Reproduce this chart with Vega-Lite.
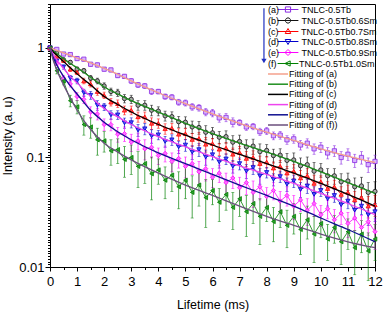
{
"$schema":"https://vega.github.io/schema/vega-lite/v6.json",
"width":325,"height":263,
"autosize":"none",
"padding":{"left":50,"top":4,"right":12,"bottom":47},
"config":{"font":"Liberation Sans","view":{"stroke":"black","strokeWidth":1},
 "axis":{"grid":false,"domainColor":"black","tickColor":"black","labelColor":"black","titleColor":"black","labelFont":"Liberation Sans","titleFont":"Liberation Sans","labelFontSize":13,"titleFontSize":12.5,"titleFontWeight":"normal"},
 "legend":{"labelFont":"Liberation Sans","labelColor":"black","labelFontSize":9,"padding":0}},
"datasets":{
"pts":[
{"s":"a","t":0,"v":1,"e":0.03},{"s":"a","t":0.25,"v":0.97,"e":0.03},{"s":"a","t":0.5,"v":0.88,"e":0.03},{"s":"a","t":0.75,"v":0.87,"e":0.03},{"s":"a","t":1,"v":0.8,"e":0.03},{"s":"a","t":1.25,"v":0.79,"e":0.03},{"s":"a","t":1.5,"v":0.71,"e":0.03},{"s":"a","t":1.75,"v":0.7,"e":0.03},{"s":"a","t":2,"v":0.64,"e":0.025},{"s":"a","t":2.25,"v":0.63,"e":0.025},{"s":"a","t":2.5,"v":0.56,"e":0.025},{"s":"a","t":2.75,"v":0.55,"e":0.025},{"s":"a","t":3,"v":0.5,"e":0.025},{"s":"a","t":3.25,"v":0.46,"e":0.025},{"s":"a","t":3.5,"v":0.45,"e":0.025},{"s":"a","t":3.75,"v":0.4,"e":0.025},{"s":"a","t":4,"v":0.4,"e":0.02},{"s":"a","t":4.25,"v":0.36,"e":0.02},{"s":"a","t":4.5,"v":0.355,"e":0.02},{"s":"a","t":4.75,"v":0.32,"e":0.02},{"s":"a","t":5,"v":0.315,"e":0.02},{"s":"a","t":5.25,"v":0.29,"e":0.02},{"s":"a","t":5.5,"v":0.285,"e":0.02},{"s":"a","t":5.75,"v":0.26,"e":0.02},{"s":"a","t":6,"v":0.255,"e":0.02},{"s":"a","t":6.25,"v":0.23,"e":0.02},{"s":"a","t":6.5,"v":0.232,"e":0.02},{"s":"a","t":6.75,"v":0.21,"e":0.02},{"s":"a","t":7,"v":0.208,"e":0.013},{"s":"a","t":7.25,"v":0.19,"e":0.013},{"s":"a","t":7.5,"v":0.192,"e":0.013},{"s":"a","t":7.75,"v":0.172,"e":0.013},{"s":"a","t":8,"v":0.175,"e":0.013},{"s":"a","t":8.25,"v":0.158,"e":0.013},{"s":"a","t":8.5,"v":0.16,"e":0.013},{"s":"a","t":8.75,"v":0.145,"e":0.013},{"s":"a","t":9,"v":0.148,"e":0.013},{"s":"a","t":9.25,"v":0.13,"e":0.013},{"s":"a","t":9.5,"v":0.135,"e":0.013},{"s":"a","t":9.75,"v":0.12,"e":0.013},{"s":"a","t":10,"v":0.124,"e":0.013},{"s":"a","t":10.25,"v":0.11,"e":0.013},{"s":"a","t":10.5,"v":0.115,"e":0.013},{"s":"a","t":10.75,"v":0.1,"e":0.013},{"s":"a","t":11,"v":0.107,"e":0.013},{"s":"a","t":11.25,"v":0.094,"e":0.013},{"s":"a","t":11.5,"v":0.1,"e":0.013},{"s":"a","t":11.75,"v":0.086,"e":0.013},{"s":"a","t":12,"v":0.092,"e":0.013},
{"s":"b","t":0,"v":1,"e":0.03},{"s":"b","t":0.25,"v":0.9,"e":0.03},{"s":"b","t":0.5,"v":0.78,"e":0.03},{"s":"b","t":0.75,"v":0.74,"e":0.03},{"s":"b","t":1,"v":0.64,"e":0.03},{"s":"b","t":1.25,"v":0.62,"e":0.03},{"s":"b","t":1.5,"v":0.53,"e":0.03},{"s":"b","t":1.75,"v":0.5,"e":0.03},{"s":"b","t":2,"v":0.45,"e":0.03},{"s":"b","t":2.25,"v":0.4,"e":0.03},{"s":"b","t":2.5,"v":0.39,"e":0.03},{"s":"b","t":2.75,"v":0.345,"e":0.03},{"s":"b","t":3,"v":0.34,"e":0.03},{"s":"b","t":3.25,"v":0.3,"e":0.03},{"s":"b","t":3.5,"v":0.3,"e":0.03},{"s":"b","t":3.75,"v":0.27,"e":0.03},{"s":"b","t":4,"v":0.265,"e":0.025},{"s":"b","t":4.25,"v":0.24,"e":0.025},{"s":"b","t":4.5,"v":0.236,"e":0.025},{"s":"b","t":4.75,"v":0.212,"e":0.025},{"s":"b","t":5,"v":0.21,"e":0.025},{"s":"b","t":5.25,"v":0.19,"e":0.025},{"s":"b","t":5.5,"v":0.188,"e":0.025},{"s":"b","t":5.75,"v":0.17,"e":0.025},{"s":"b","t":6,"v":0.168,"e":0.02},{"s":"b","t":6.25,"v":0.153,"e":0.02},{"s":"b","t":6.5,"v":0.155,"e":0.02},{"s":"b","t":6.75,"v":0.138,"e":0.02},{"s":"b","t":7,"v":0.14,"e":0.02},{"s":"b","t":7.25,"v":0.125,"e":0.02},{"s":"b","t":7.5,"v":0.127,"e":0.02},{"s":"b","t":7.75,"v":0.113,"e":0.02},{"s":"b","t":8,"v":0.116,"e":0.015},{"s":"b","t":8.25,"v":0.104,"e":0.015},{"s":"b","t":8.5,"v":0.105,"e":0.015},{"s":"b","t":8.75,"v":0.094,"e":0.015},{"s":"b","t":9,"v":0.095,"e":0.015},{"s":"b","t":9.25,"v":0.084,"e":0.015},{"s":"b","t":9.5,"v":0.086,"e":0.015},{"s":"b","t":9.75,"v":0.075,"e":0.015},{"s":"b","t":10,"v":0.077,"e":0.011},{"s":"b","t":10.25,"v":0.068,"e":0.011},{"s":"b","t":10.5,"v":0.068,"e":0.011},{"s":"b","t":10.75,"v":0.06,"e":0.011},{"s":"b","t":11,"v":0.061,"e":0.011},{"s":"b","t":11.25,"v":0.054,"e":0.011},{"s":"b","t":11.5,"v":0.055,"e":0.011},{"s":"b","t":11.75,"v":0.048,"e":0.011},{"s":"b","t":12,"v":0.049,"e":0.011},
{"s":"c","t":0,"v":1,"e":0.03},{"s":"c","t":0.25,"v":0.84,"e":0.03},{"s":"c","t":0.5,"v":0.77,"e":0.03},{"s":"c","t":0.75,"v":0.64,"e":0.03},{"s":"c","t":1,"v":0.6,"e":0.03},{"s":"c","t":1.25,"v":0.5,"e":0.03},{"s":"c","t":1.5,"v":0.47,"e":0.03},{"s":"c","t":1.75,"v":0.4,"e":0.03},{"s":"c","t":2,"v":0.37,"e":0.025},{"s":"c","t":2.25,"v":0.32,"e":0.025},{"s":"c","t":2.5,"v":0.31,"e":0.025},{"s":"c","t":2.75,"v":0.27,"e":0.025},{"s":"c","t":3,"v":0.27,"e":0.025},{"s":"c","t":3.25,"v":0.235,"e":0.025},{"s":"c","t":3.5,"v":0.235,"e":0.025},{"s":"c","t":3.75,"v":0.205,"e":0.025},{"s":"c","t":4,"v":0.205,"e":0.02},{"s":"c","t":4.25,"v":0.183,"e":0.02},{"s":"c","t":4.5,"v":0.185,"e":0.02},{"s":"c","t":4.75,"v":0.163,"e":0.02},{"s":"c","t":5,"v":0.165,"e":0.02},{"s":"c","t":5.25,"v":0.146,"e":0.02},{"s":"c","t":5.5,"v":0.149,"e":0.02},{"s":"c","t":5.75,"v":0.132,"e":0.02},{"s":"c","t":6,"v":0.134,"e":0.015},{"s":"c","t":6.25,"v":0.119,"e":0.015},{"s":"c","t":6.5,"v":0.122,"e":0.015},{"s":"c","t":6.75,"v":0.107,"e":0.015},{"s":"c","t":7,"v":0.111,"e":0.015},{"s":"c","t":7.25,"v":0.098,"e":0.015},{"s":"c","t":7.5,"v":0.1,"e":0.015},{"s":"c","t":7.75,"v":0.088,"e":0.015},{"s":"c","t":8,"v":0.091,"e":0.011},{"s":"c","t":8.25,"v":0.08,"e":0.011},{"s":"c","t":8.5,"v":0.083,"e":0.011},{"s":"c","t":8.75,"v":0.072,"e":0.011},{"s":"c","t":9,"v":0.075,"e":0.011},{"s":"c","t":9.25,"v":0.065,"e":0.011},{"s":"c","t":9.5,"v":0.068,"e":0.011},{"s":"c","t":9.75,"v":0.058,"e":0.011},{"s":"c","t":10,"v":0.06,"e":0.008},{"s":"c","t":10.25,"v":0.052,"e":0.008},{"s":"c","t":10.5,"v":0.054,"e":0.008},{"s":"c","t":10.75,"v":0.046,"e":0.008},{"s":"c","t":11,"v":0.048,"e":0.008},{"s":"c","t":11.25,"v":0.041,"e":0.008},{"s":"c","t":11.5,"v":0.043,"e":0.008},{"s":"c","t":11.75,"v":0.036,"e":0.008},{"s":"c","t":12,"v":0.037,"e":0.008},
{"s":"d","t":0,"v":1,"e":0.03},{"s":"d","t":0.25,"v":0.76,"e":0.03},{"s":"d","t":0.5,"v":0.67,"e":0.03},{"s":"d","t":0.75,"v":0.53,"e":0.03},{"s":"d","t":1,"v":0.5,"e":0.03},{"s":"d","t":1.25,"v":0.39,"e":0.03},{"s":"d","t":1.5,"v":0.37,"e":0.03},{"s":"d","t":1.75,"v":0.3,"e":0.03},{"s":"d","t":2,"v":0.29,"e":0.022},{"s":"d","t":2.25,"v":0.245,"e":0.022},{"s":"d","t":2.5,"v":0.245,"e":0.022},{"s":"d","t":2.75,"v":0.207,"e":0.022},{"s":"d","t":3,"v":0.208,"e":0.022},{"s":"d","t":3.25,"v":0.178,"e":0.022},{"s":"d","t":3.5,"v":0.183,"e":0.022},{"s":"d","t":3.75,"v":0.157,"e":0.022},{"s":"d","t":4,"v":0.161,"e":0.016},{"s":"d","t":4.25,"v":0.14,"e":0.016},{"s":"d","t":4.5,"v":0.145,"e":0.016},{"s":"d","t":4.75,"v":0.125,"e":0.016},{"s":"d","t":5,"v":0.13,"e":0.016},{"s":"d","t":5.25,"v":0.112,"e":0.016},{"s":"d","t":5.5,"v":0.118,"e":0.016},{"s":"d","t":5.75,"v":0.101,"e":0.016},{"s":"d","t":6,"v":0.106,"e":0.011},{"s":"d","t":6.25,"v":0.091,"e":0.011},{"s":"d","t":6.5,"v":0.097,"e":0.011},{"s":"d","t":6.75,"v":0.083,"e":0.011},{"s":"d","t":7,"v":0.088,"e":0.011},{"s":"d","t":7.25,"v":0.075,"e":0.011},{"s":"d","t":7.5,"v":0.081,"e":0.011},{"s":"d","t":7.75,"v":0.068,"e":0.011},{"s":"d","t":8,"v":0.073,"e":0.008},{"s":"d","t":8.25,"v":0.063,"e":0.008},{"s":"d","t":8.5,"v":0.067,"e":0.008},{"s":"d","t":8.75,"v":0.057,"e":0.008},{"s":"d","t":9,"v":0.061,"e":0.008},{"s":"d","t":9.25,"v":0.051,"e":0.008},{"s":"d","t":9.5,"v":0.055,"e":0.008},{"s":"d","t":9.75,"v":0.046,"e":0.008},{"s":"d","t":10,"v":0.05,"e":0.006},{"s":"d","t":10.25,"v":0.042,"e":0.006},{"s":"d","t":10.5,"v":0.045,"e":0.006},{"s":"d","t":10.75,"v":0.037,"e":0.006},{"s":"d","t":11,"v":0.04,"e":0.006},{"s":"d","t":11.25,"v":0.033,"e":0.006},{"s":"d","t":11.5,"v":0.036,"e":0.006},{"s":"d","t":11.75,"v":0.03,"e":0.006},{"s":"d","t":12,"v":0.032,"e":0.006},
{"s":"e","t":0,"v":1,"e":0.03},{"s":"e","t":0.25,"v":0.72,"e":0.03},{"s":"e","t":0.5,"v":0.53,"e":0.03},{"s":"e","t":0.75,"v":0.47,"e":0.03},{"s":"e","t":1,"v":0.36,"e":0.03},{"s":"e","t":1.25,"v":0.34,"e":0.03},{"s":"e","t":1.5,"v":0.26,"e":0.03},{"s":"e","t":1.75,"v":0.25,"e":0.03},{"s":"e","t":2,"v":0.2,"e":0.025},{"s":"e","t":2.25,"v":0.2,"e":0.025},{"s":"e","t":2.5,"v":0.163,"e":0.025},{"s":"e","t":2.75,"v":0.165,"e":0.025},{"s":"e","t":3,"v":0.138,"e":0.025},{"s":"e","t":3.25,"v":0.142,"e":0.025},{"s":"e","t":3.5,"v":0.12,"e":0.025},{"s":"e","t":3.75,"v":0.124,"e":0.025},{"s":"e","t":4,"v":0.104,"e":0.018},{"s":"e","t":4.25,"v":0.109,"e":0.018},{"s":"e","t":4.5,"v":0.092,"e":0.018},{"s":"e","t":4.75,"v":0.098,"e":0.018},{"s":"e","t":5,"v":0.083,"e":0.018},{"s":"e","t":5.25,"v":0.088,"e":0.018},{"s":"e","t":5.5,"v":0.074,"e":0.018},{"s":"e","t":5.75,"v":0.079,"e":0.018},{"s":"e","t":6,"v":0.066,"e":0.013},{"s":"e","t":6.25,"v":0.072,"e":0.013},{"s":"e","t":6.5,"v":0.059,"e":0.013},{"s":"e","t":6.75,"v":0.065,"e":0.013},{"s":"e","t":7,"v":0.053,"e":0.013},{"s":"e","t":7.25,"v":0.059,"e":0.013},{"s":"e","t":7.5,"v":0.048,"e":0.013},{"s":"e","t":7.75,"v":0.054,"e":0.013},{"s":"e","t":8,"v":0.044,"e":0.009},{"s":"e","t":8.25,"v":0.05,"e":0.009},{"s":"e","t":8.5,"v":0.04,"e":0.009},{"s":"e","t":8.75,"v":0.045,"e":0.009},{"s":"e","t":9,"v":0.036,"e":0.009},{"s":"e","t":9.25,"v":0.041,"e":0.009},{"s":"e","t":9.5,"v":0.033,"e":0.009},{"s":"e","t":9.75,"v":0.038,"e":0.009},{"s":"e","t":10,"v":0.03,"e":0.0065},{"s":"e","t":10.25,"v":0.034,"e":0.0065},{"s":"e","t":10.5,"v":0.027,"e":0.0065},{"s":"e","t":10.75,"v":0.031,"e":0.0065},{"s":"e","t":11,"v":0.025,"e":0.0065},{"s":"e","t":11.25,"v":0.028,"e":0.0065},{"s":"e","t":11.5,"v":0.023,"e":0.0065},{"s":"e","t":11.75,"v":0.026,"e":0.0065},{"s":"e","t":12,"v":0.021,"e":0.0065},
{"s":"f","t":0,"v":1,"e":0.04},{"s":"f","t":0.25,"v":0.62,"e":0.04},{"s":"f","t":0.5,"v":0.5,"e":0.04},{"s":"f","t":0.75,"v":0.33,"e":0.04},{"s":"f","t":1,"v":0.29,"e":0.04},{"s":"f","t":1.25,"v":0.2,"e":0.04},{"s":"f","t":1.5,"v":0.19,"e":0.04},{"s":"f","t":1.75,"v":0.145,"e":0.04},{"s":"f","t":2,"v":0.142,"e":0.03},{"s":"f","t":2.25,"v":0.115,"e":0.03},{"s":"f","t":2.5,"v":0.118,"e":0.03},{"s":"f","t":2.75,"v":0.096,"e":0.03},{"s":"f","t":3,"v":0.1,"e":0.03},{"s":"f","t":3.25,"v":0.083,"e":0.03},{"s":"f","t":3.5,"v":0.088,"e":0.03},{"s":"f","t":3.75,"v":0.071,"e":0.03},{"s":"f","t":4,"v":0.077,"e":0.02},{"s":"f","t":4.25,"v":0.062,"e":0.02},{"s":"f","t":4.5,"v":0.069,"e":0.02},{"s":"f","t":4.75,"v":0.054,"e":0.02},{"s":"f","t":5,"v":0.062,"e":0.02},{"s":"f","t":5.25,"v":0.048,"e":0.02},{"s":"f","t":5.5,"v":0.056,"e":0.02},{"s":"f","t":5.75,"v":0.043,"e":0.02},{"s":"f","t":6,"v":0.05,"e":0.013},{"s":"f","t":6.25,"v":0.039,"e":0.013},{"s":"f","t":6.5,"v":0.046,"e":0.013},{"s":"f","t":6.75,"v":0.035,"e":0.013},{"s":"f","t":7,"v":0.042,"e":0.013},{"s":"f","t":7.25,"v":0.032,"e":0.013},{"s":"f","t":7.5,"v":0.038,"e":0.013},{"s":"f","t":7.75,"v":0.029,"e":0.013},{"s":"f","t":8,"v":0.035,"e":0.009},{"s":"f","t":8.25,"v":0.026,"e":0.009},{"s":"f","t":8.5,"v":0.032,"e":0.009},{"s":"f","t":8.75,"v":0.024,"e":0.009},{"s":"f","t":9,"v":0.029,"e":0.009},{"s":"f","t":9.25,"v":0.022,"e":0.009},{"s":"f","t":9.5,"v":0.027,"e":0.009},{"s":"f","t":9.75,"v":0.02,"e":0.009},{"s":"f","t":10,"v":0.025,"e":0.0065},{"s":"f","t":10.25,"v":0.018,"e":0.0065},{"s":"f","t":10.5,"v":0.023,"e":0.0065},{"s":"f","t":10.75,"v":0.017,"e":0.0065},{"s":"f","t":11,"v":0.021,"e":0.0065},{"s":"f","t":11.25,"v":0.015,"e":0.0065},{"s":"f","t":11.5,"v":0.02,"e":0.0065},{"s":"f","t":11.75,"v":0.014,"e":0.0065},{"s":"f","t":12,"v":0.018,"e":0.0065}
],
"fit":[
{"s":"a","t":0,"v":1},{"s":"a","t":0.1,"v":0.98},{"s":"a","t":0.25,"v":0.95},{"s":"a","t":0.5,"v":0.9},{"s":"a","t":0.75,"v":0.855},{"s":"a","t":1,"v":0.81},{"s":"a","t":1.5,"v":0.73},{"s":"a","t":2,"v":0.65},{"s":"a","t":2.5,"v":0.575},{"s":"a","t":3,"v":0.5},{"s":"a","t":4,"v":0.39},{"s":"a","t":5,"v":0.31},{"s":"a","t":6,"v":0.25},{"s":"a","t":7,"v":0.205},{"s":"a","t":8,"v":0.17},{"s":"a","t":9,"v":0.143},{"s":"a","t":10,"v":0.12},{"s":"a","t":11,"v":0.103},{"s":"a","t":12,"v":0.09},
{"s":"b","t":0,"v":1},{"s":"b","t":0.1,"v":0.95},{"s":"b","t":0.25,"v":0.89},{"s":"b","t":0.5,"v":0.8},{"s":"b","t":0.75,"v":0.72},{"s":"b","t":1,"v":0.66},{"s":"b","t":1.5,"v":0.54},{"s":"b","t":2,"v":0.44},{"s":"b","t":2.5,"v":0.38},{"s":"b","t":3,"v":0.33},{"s":"b","t":4,"v":0.26},{"s":"b","t":5,"v":0.205},{"s":"b","t":6,"v":0.165},{"s":"b","t":7,"v":0.135},{"s":"b","t":8,"v":0.112},{"s":"b","t":9,"v":0.092},{"s":"b","t":10,"v":0.074},{"s":"b","t":11,"v":0.059},{"s":"b","t":12,"v":0.047},
{"s":"c","t":0,"v":1},{"s":"c","t":0.1,"v":0.93},{"s":"c","t":0.25,"v":0.86},{"s":"c","t":0.5,"v":0.75},{"s":"c","t":0.75,"v":0.66},{"s":"c","t":1,"v":0.58},{"s":"c","t":1.5,"v":0.46},{"s":"c","t":2,"v":0.36},{"s":"c","t":2.5,"v":0.305},{"s":"c","t":3,"v":0.26},{"s":"c","t":4,"v":0.2},{"s":"c","t":5,"v":0.16},{"s":"c","t":6,"v":0.13},{"s":"c","t":7,"v":0.107},{"s":"c","t":8,"v":0.088},{"s":"c","t":9,"v":0.072},{"s":"c","t":10,"v":0.058},{"s":"c","t":11,"v":0.046},{"s":"c","t":12,"v":0.036},
{"s":"d","t":0,"v":1},{"s":"d","t":0.1,"v":0.89},{"s":"d","t":0.25,"v":0.78},{"s":"d","t":0.5,"v":0.65},{"s":"d","t":0.75,"v":0.55},{"s":"d","t":1,"v":0.48},{"s":"d","t":1.5,"v":0.36},{"s":"d","t":2,"v":0.28},{"s":"d","t":2.5,"v":0.235},{"s":"d","t":3,"v":0.2},{"s":"d","t":4,"v":0.155},{"s":"d","t":5,"v":0.125},{"s":"d","t":6,"v":0.102},{"s":"d","t":7,"v":0.084},{"s":"d","t":8,"v":0.07},{"s":"d","t":9,"v":0.058},{"s":"d","t":10,"v":0.047},{"s":"d","t":11,"v":0.038},{"s":"d","t":12,"v":0.03},
{"s":"e","t":0,"v":1},{"s":"e","t":0.1,"v":0.84},{"s":"e","t":0.25,"v":0.7},{"s":"e","t":0.5,"v":0.55},{"s":"e","t":0.75,"v":0.45},{"s":"e","t":1,"v":0.38},{"s":"e","t":1.5,"v":0.27},{"s":"e","t":2,"v":0.21},{"s":"e","t":2.5,"v":0.172},{"s":"e","t":3,"v":0.145},{"s":"e","t":4,"v":0.11},{"s":"e","t":5,"v":0.088},{"s":"e","t":6,"v":0.07},{"s":"e","t":7,"v":0.056},{"s":"e","t":8,"v":0.045},{"s":"e","t":9,"v":0.036},{"s":"e","t":10,"v":0.028},{"s":"e","t":11,"v":0.022},{"s":"e","t":12,"v":0.017},
{"s":"f","t":0,"v":1},{"s":"f","t":0.1,"v":0.8},{"s":"f","t":0.25,"v":0.63},{"s":"f","t":0.5,"v":0.46},{"s":"f","t":0.75,"v":0.35},{"s":"f","t":1,"v":0.27},{"s":"f","t":1.5,"v":0.18},{"s":"f","t":2,"v":0.135},{"s":"f","t":2.5,"v":0.112},{"s":"f","t":3,"v":0.095},{"s":"f","t":4,"v":0.072},{"s":"f","t":5,"v":0.056},{"s":"f","t":6,"v":0.045},{"s":"f","t":7,"v":0.036},{"s":"f","t":8,"v":0.029},{"s":"f","t":9,"v":0.024},{"s":"f","t":10,"v":0.02},{"s":"f","t":11,"v":0.017},{"s":"f","t":12,"v":0.015}
],
"arrow":[{"t":7.9,"v":2.3,"v2":0.76}]
},
"layer":[
{"data":{"name":"pts"},
 "mark":{"type":"errorbar","ticks":{"size":3},"thickness":0.7},
 "encoding":{
  "x":{"field":"t","type":"quantitative","scale":{"domain":[0,12],"nice":false,"zero":false},
       "axis":{"values":[0,1,2,3,4,5,6,7,8,9,10,11,12],"format":"d","tickSize":4,"labelPadding":4,"title":"Lifetime (ms)","titlePadding":10,"labelFlush":false}},
  "y":{"field":"v","type":"quantitative","scale":{"type":"log","domain":[0.01,2.52],"nice":false},
       "axis":{"values":[0.01,0.1,1],"format":"~g","tickSize":5,"labelPadding":1,"title":"Intensity (a. u)","titlePadding":4,"labelFlush":false}},
  "yError":{"field":"e"},
  "color":{"field":"s","type":"nominal","scale":{"domain":["a","b","c","d","e","f"],"range":["#8a2be2","#111111","#ff0000","#0000cc","#ff00ff","#008000"]},"legend":null}
 }},
{"data":{"name":"pts"},
 "mark":{"type":"line","strokeWidth":0.8},
 "encoding":{
  "x":{"field":"t","type":"quantitative","axis":null},
  "y":{"field":"v","type":"quantitative","axis":null},
  "color":{"field":"s","type":"nominal","scale":{"domain":["a","b","c","d","e","f"],"range":["#8a2be2","#111111","#ff0000","#0000cc","#ff00ff","#008000"]},"legend":null}
 }},
{"data":{"name":"pts"},
 "mark":{"type":"point","size":18,"strokeWidth":0.8,"opacity":1,"filled":true},
 "encoding":{
  "x":{"field":"t","type":"quantitative","axis":null},
  "y":{"field":"v","type":"quantitative","axis":null},
  "shape":{"field":"s","type":"nominal","scale":{"domain":["a","b","c","d","e","f"],"range":["square","circle","triangle-up","triangle-down","diamond","triangle-left"]},"legend":null},
  "fill":{"field":"s","type":"nominal","scale":{"domain":["a","b","c","d","e","f"],"range":["#d9b3ff","#aaaaaa","#ff5050","#5050ff","#ff70ff","#30a030"]},"legend":null},
  "stroke":{"field":"s","type":"nominal","scale":{"domain":["a","b","c","d","e","f"],"range":["#8a2be2","#111111","#ff0000","#0000cc","#ff00ff","#008000"]},"legend":null}
 }},
{"data":{"name":"fit"},
 "mark":{"type":"line","strokeWidth":1.3,"interpolate":"monotone"},
 "encoding":{
  "x":{"field":"t","type":"quantitative","axis":null},
  "y":{"field":"v","type":"quantitative","axis":null},
  "color":{"field":"s","type":"nominal","scale":{"domain":["a","b","c","d","e","f"],"range":["#f4a08c","#1f8f1f","#000000","#ee44ee","#101090","#6b4f7d"]},
   "legend":{"orient":"none","legendX":218,"legendY":65,"title":null,"symbolType":"M-2.5,0H2.5","symbolSize":64,"symbolStrokeWidth":1.5,"symbolOffset":5,"labelOffset":6,"rowPadding":0.2,
     "labelExpr":"datum.label == 'f' ? 'Fitting of (f))' : 'Fitting of (' + datum.label + ')'"}}
 }},
{"data":{"name":"pts"},
 "transform":[{"filter":"datum.t == 0"}],
 "mark":{"type":"point","opacity":0,"filled":false,"strokeWidth":1},
 "encoding":{
  "x":{"field":"t","type":"quantitative","axis":{"orient":"bottom","values":[0.5,1.5,2.5,3.5,4.5,5.5,6.5,7.5,8.5,9.5,10.5,11.5],"labels":false,"tickSize":2.5,"domain":false,"title":null}},
  "y":{"field":"v","type":"quantitative","axis":{"orient":"left","values":[0.01059,0.01122,0.01189,0.01259,0.01334,0.01413,0.01496,0.01585,0.01679,0.01778,0.01884,0.01995,0.02113,0.02239,0.02371,0.02512,0.02661,0.02818,0.02985,0.03162,0.0335,0.03548,0.03758,0.03981,0.04217,0.04467,0.04732,0.05012,0.05309,0.05623,0.05957,0.0631,0.06683,0.07079,0.07499,0.07943,0.08414,0.08913,0.09441,0.1059,0.1122,0.1189,0.1259,0.1334,0.1413,0.1496,0.1585,0.1679,0.1778,0.1884,0.1995,0.2113,0.2239,0.2371,0.2512,0.2661,0.2818,0.2985,0.3162,0.335,0.3548,0.3758,0.3981,0.4217,0.4467,0.4732,0.5012,0.5309,0.5623,0.5957,0.631,0.6683,0.7079,0.7499,0.7943,0.8414,0.8913,0.9441,1.059,1.122,1.189,1.259,1.334,1.413,1.496,1.585,1.679,1.778,1.884,1.995,2.113,2.239,2.371,2.512],"labels":false,"tickSize":2.5,"domain":false,"title":null}},
  "shape":{"field":"s","type":"nominal","scale":{"domain":["a","b","c","d","e","f"],"range":[
    "M-2.6,0H2.6M-0.65,-0.65H0.65V0.65H-0.65Z",
    "M-2.6,0H2.6M-0.65,0A0.65,0.65,0,1,0,0.65,0A0.65,0.65,0,1,0,-0.65,0Z",
    "M-2.6,0H2.6M0,-0.75L0.7,0.5H-0.7Z",
    "M-2.6,0H2.6M0,0.75L0.7,-0.5H-0.7Z",
    "M-2.6,0H2.6M0,-0.75L0.75,0L0,0.75L-0.75,0Z",
    "M-2.6,0H2.6M-0.75,0L0.55,-0.65V0.65Z"]},"legend":null},
  "color":{"field":"s","type":"nominal","scale":{"domain":["a","b","c","d","e","f"],"range":["#8a2be2","#111111","#ff0000","#0000cc","#ff00ff","#008000"]},
   "legend":{"orient":"none","legendX":218,"legendY":1,"title":null,"symbolSize":64,"symbolStrokeWidth":1,"symbolOffset":15.5,"labelOffset":-24.5,"rowPadding":0,"symbolOpacity":1,
     "labelExpr":"'(' + datum.label + ')' + '\u00a0\u00a0\u00a0\u00a0\u00a0\u00a0\u00a0\u00a0\u00a0' + ({'a':'TNLC-0.5Tb','b':'TNLC-0.5Tb0.6Sm','c':'TNLC-0.5Tb0.7Sm','d':'TNLC-0.5Tb0.8Sm','e':'TNLC-0.5Tb0.9Sm','f':'TNLC-0.5Tb1.0Sm'})[datum.label]"}}
 }},
{"data":{"name":"arrow"},
 "mark":{"type":"rule","color":"#2030c0","strokeWidth":1.2},
 "encoding":{"x":{"field":"t","type":"quantitative","axis":null},"y":{"field":"v","type":"quantitative","axis":null},"y2":{"field":"v2"}}},
{"data":{"name":"arrow"},
 "mark":{"type":"point","shape":"triangle-down","filled":true,"color":"#2030c0","size":28,"opacity":1},
 "encoding":{"x":{"field":"t","type":"quantitative","axis":null},"y":{"field":"v2","type":"quantitative","axis":null}}}
],
"resolve":{"scale":{"color":"independent","shape":"independent","fill":"independent","stroke":"independent"},"axis":{"x":"independent","y":"independent"}}
}
